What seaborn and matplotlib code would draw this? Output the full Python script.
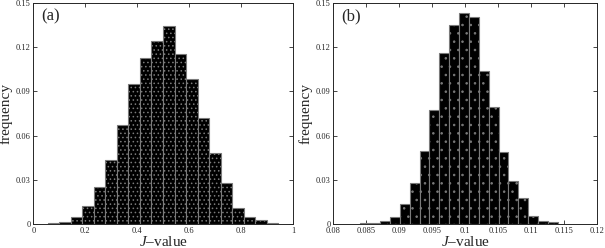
import numpy as np
import pandas as pd
import matplotlib
matplotlib.use("Agg")
import matplotlib.pyplot as plt
import seaborn as sns

# relative frequencies of the 20 histogram bins
freq_a = [0.0005, 0.0015, 0.0045, 0.0122, 0.0253, 0.0432, 0.067, 0.0947, 0.1125, 0.124,
          0.134, 0.1152, 0.0985, 0.0718, 0.0483, 0.0278, 0.0108, 0.0046, 0.003, 0.0007]
range_a = [0.0555, 0.9423]

freq_b = [0.0005, 0.0008, 0.002, 0.0047, 0.0136, 0.0278, 0.0497, 0.0773, 0.1161, 0.1349,
          0.1428, 0.1405, 0.1037, 0.0795, 0.049, 0.0289, 0.0174, 0.0052, 0.0023, 0.0011]
range_b = [0.0841, 0.1141]

yticks = [0, 0.03, 0.06, 0.09, 0.12, 0.15]
ytick_labels = ["0", "0.03", "0.06", "0.09", "0.12", "0.15"]
xticks_a = [0, 0.2, 0.4, 0.6, 0.8, 1]
xtick_labels_a = ["0", "0.2", "0.4", "0.6", "0.8", "1"]
xticks_b = [0.08, 0.085, 0.09, 0.095, 0.1, 0.105, 0.11, 0.115, 0.12]
xtick_labels_b = ["0.08", "0.085", "0.09", "0.095", "0.1", "0.105", "0.11", "0.115", "0.12"]
panel_tags = ["(a)", "(b)"]

sns.set_style("ticks")
plt.rcParams["font.family"] = ["Liberation Serif", "DejaVu Serif"]
plt.rcParams["mathtext.fontset"] = "custom"
plt.rcParams["mathtext.it"] = "Liberation Serif:italic"
plt.rcParams["mathtext.rm"] = "Liberation Serif"
plt.rcParams["hatch.linewidth"] = 0.6

fig = plt.figure(figsize=(6.05, 2.48), dpi=100)
ax_a = fig.add_axes([0.055, 0.0968, 0.4298, 0.892])
ax_b = fig.add_axes([0.551, 0.0968, 0.4352, 0.892])

panels = [
    (ax_a, freq_a, range_a, xticks_a, xtick_labels_a, (0, 1), "...."),
    (ax_b, freq_b, range_b, xticks_b, xtick_labels_b, (0.08, 0.12), ".."),
]

for i, (ax, freq, rng, xt, xtl, xlim, hatch) in enumerate(panels):
    edges = np.linspace(rng[0], rng[1], len(freq) + 1)
    df = pd.DataFrame({"centre": (edges[:-1] + edges[1:]) / 2, "freq": freq})
    sns.histplot(data=df, x="centre", weights="freq", bins=list(edges), stat="count",
                 color="black", alpha=1, edgecolor="#7a7a7a", linewidth=0.8,
                 hatch=hatch, ax=ax)
    ax.set_xlim(*xlim)
    ax.set_ylim(0, 0.15)
    ax.set_xticks(xt)
    ax.set_xticklabels(xtl)
    ax.set_yticks(yticks)
    ax.set_yticklabels(ytick_labels)
    ax.tick_params(direction="in", top=True, right=True, length=3, width=0.6,
                   labelsize=6, pad=2)
    for sp in ax.spines.values():
        sp.set_visible(True)
        sp.set_linewidth(0.7)
    ax.set_xlabel(r"$J$–value", fontsize=11, labelpad=0)
    ax.set_ylabel("frequency", fontsize=11, labelpad=2)
    ax.text(0.03, 0.975, panel_tags[i], transform=ax.transAxes, fontsize=12,
            ha="left", va="top")

fig.savefig("out.png", dpi=100)
